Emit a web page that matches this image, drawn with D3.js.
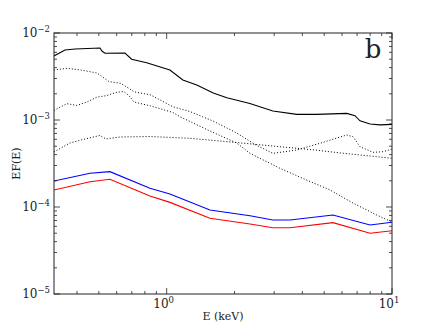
<!DOCTYPE html>
<html>
<head>
<meta charset="utf-8">
<script src="https://cdn.jsdelivr.net/npm/d3@7"></script>
<style>
  body { margin: 0; background: #fff; }
  text { font-family: "DejaVu Serif", "Liberation Serif", serif; fill: #222; }
</style>
</head>
<body>
<svg id="chart" width="436" height="327"></svg>
<script>
// energies (keV) and EF(E) values
const totalE = [0.316, 0.354, 0.392, 0.506, 0.516, 0.532, 0.653, 0.699, 0.815, 1.034, 1.18, 1.36, 1.61, 1.85, 2.34, 2.96, 3.78, 4.63, 6.30, 6.85, 7.21, 7.99, 8.85, 10];
const totalF = [0.00544, 0.00638, 0.00655, 0.00673, 0.00621, 0.00585, 0.00589, 0.00499, 0.00456, 0.00376, 0.00288, 0.00253, 0.00204, 0.00180, 0.00155, 0.00127, 0.00116, 0.00116, 0.00119, 0.00112, 0.00098, 0.00090, 0.00088, 0.00089];

const reflE = [0.316, 0.361, 0.415, 0.490, 0.527, 0.555, 0.625, 0.680, 0.716, 0.849, 1.066, 1.269, 1.605, 2.045, 2.49, 2.96, 3.78, 4.79, 6.29, 6.71, 7.21, 8.24, 9.12, 10];
const reflF = [0.00376, 0.00393, 0.00376, 0.00347, 0.00304, 0.00276, 0.00264, 0.00231, 0.00211, 0.00194, 0.00142, 0.00125, 0.000974, 0.000709, 0.000516, 0.000414, 0.000452, 0.000540, 0.000672, 0.000643, 0.000493, 0.000425, 0.000432, 0.000464];

const thermE = [0.316, 0.361, 0.400, 0.443, 0.490, 0.543, 0.602, 0.646, 0.680, 0.716, 0.849, 1.066, 1.146, 1.556, 2.045, 2.343, 3.18, 4.18, 5.31, 6.71, 8.55, 10];
const thermF = [0.00129, 0.00154, 0.00147, 0.00161, 0.00183, 0.00191, 0.00209, 0.00212, 0.00191, 0.00161, 0.00145, 0.00122, 0.00109, 0.000748, 0.000544, 0.000414, 0.000279, 0.000204, 0.000157, 0.000111, 0.0000809, 0.0000673];

const plE = [0.316, 0.372, 0.434, 0.506, 0.538, 0.621, 0.843, 1.269, 2.045, 3.18, 4.33, 6.12, 10];
const plF = [0.000429, 0.000544, 0.000605, 0.000664, 0.000605, 0.000638, 0.000646, 0.000616, 0.000551, 0.000493, 0.000458, 0.000414, 0.000363];

const blueE = [0.316, 0.457, 0.560, 0.843, 1.034, 1.556, 2.343, 2.96, 3.53, 5.47, 7.99, 10];
const blueF = [0.000199, 0.000244, 0.000255, 0.000164, 0.000141, 0.0000924, 0.0000794, 0.0000709, 0.0000709, 0.0000809, 0.0000621, 0.0000668];
const redF = [0.000157, 0.000195, 0.000208, 0.000134, 0.000113, 0.0000741, 0.0000638, 0.0000578, 0.0000578, 0.0000661, 0.0000499, 0.0000534];

const xTicks = [1, 10];
const yTicks = [1e-5, 1e-4, 1e-3, 1e-2];

const margin = { left: 54, right: 44, top: 33, bottom: 33 };
const width = 436, height = 327;
const svg = d3.select('#chart');

const x = d3.scaleLog().domain([Math.sqrt(0.1), 10]).range([margin.left, width - margin.right]);
const y = d3.scaleLog().domain([1e-5, 1e-2]).range([height - margin.bottom, margin.top]);

const line = d3.line().x(d => x(d[0])).y(d => y(d[1]));

const series = [
  { e: plE, f: plF, color: '#000', dash: '1,2', w: 1 },
  { e: thermE, f: thermF, color: '#000', dash: '1,2', w: 1 },
  { e: reflE, f: reflF, color: '#000', dash: '1,2', w: 1 },
  { e: blueE, f: redF, color: '#f00', dash: null, w: 1.1 },
  { e: blueE, f: blueF, color: '#00f', dash: null, w: 1.1 },
  { e: totalE, f: totalF, color: '#000', dash: null, w: 1.1 }
];

svg.append('defs').append('clipPath').attr('id', 'clip')
  .append('rect')
  .attr('x', margin.left).attr('y', margin.top)
  .attr('width', width - margin.left - margin.right)
  .attr('height', height - margin.top - margin.bottom);

const g = svg.append('g').attr('clip-path', 'url(#clip)');
series.forEach(s => {
  g.append('path')
    .datum(s.e.map((e, i) => [e, s.f[i]]))
    .attr('d', line)
    .attr('fill', 'none')
    .attr('stroke', s.color)
    .attr('stroke-width', s.w)
    .attr('stroke-dasharray', s.dash);
});

// minor and major ticks, inward on all four sides (log axes)
const xMinor = [];
[0.1, 1].forEach(dec => { for (let k = 2; k <= 9; k++) { const v = k * dec; if (v > x.domain()[0] && v < 10) xMinor.push(v); } });
const yMinor = [];
[1e-5, 1e-4, 1e-3].forEach(dec => { for (let k = 2; k <= 9; k++) yMinor.push(k * dec); });

const x0 = margin.left, x1 = width - margin.right;
const y0 = height - margin.bottom, y1 = margin.top;
const tk = svg.append('g').attr('stroke', '#222').attr('stroke-width', 0.8);

function xt(v, len) {
  tk.append('line').attr('x1', x(v)).attr('x2', x(v)).attr('y1', y0).attr('y2', y0 - len);
  tk.append('line').attr('x1', x(v)).attr('x2', x(v)).attr('y1', y1).attr('y2', y1 + len);
}
function yt(v, len) {
  tk.append('line').attr('y1', y(v)).attr('y2', y(v)).attr('x1', x0).attr('x2', x0 + len);
  tk.append('line').attr('y1', y(v)).attr('y2', y(v)).attr('x1', x1).attr('x2', x1 - len);
}
xMinor.forEach(v => xt(v, 3));
xTicks.forEach(v => xt(v, 6));
yMinor.forEach(v => yt(v, 3));
yTicks.forEach(v => yt(v, 6));

svg.append('rect')
  .attr('x', x0).attr('y', y1)
  .attr('width', x1 - x0).attr('height', y0 - y1)
  .attr('fill', 'none').attr('stroke', '#222').attr('stroke-width', 1);

// tick labels as 10^n
function powLabel(sel, v) {
  const p = Math.round(Math.log10(v));
  sel.append('tspan').text('10');
  sel.append('tspan').attr('dy', -5).attr('font-size', 8.5).text(p < 0 ? '\u2212' + (-p) : p);
}
xTicks.forEach(v => {
  const t = svg.append('text').attr('x', x(v) - 3).attr('y', y0 + 14)
    .attr('text-anchor', 'middle').attr('font-size', 12);
  powLabel(t, v);
});
yTicks.forEach(v => {
  const t = svg.append('text').attr('x', x0 - 4).attr('y', y(v) + 4)
    .attr('text-anchor', 'end').attr('font-size', 12);
  powLabel(t, v);
});

svg.append('text').attr('x', (x0 + x1) / 2).attr('y', y0 + 26)
  .attr('text-anchor', 'middle').attr('font-size', 11).text('E (keV)');
svg.append('text').attr('transform', `translate(20,${(y0 + y1) / 2}) rotate(-90)`)
  .attr('text-anchor', 'middle').attr('font-size', 11).text('EF(E)');
svg.append('text').attr('x', 373).attr('y', 58)
  .attr('text-anchor', 'middle').attr('font-size', 26).text('b');
</script>
</body>
</html>
